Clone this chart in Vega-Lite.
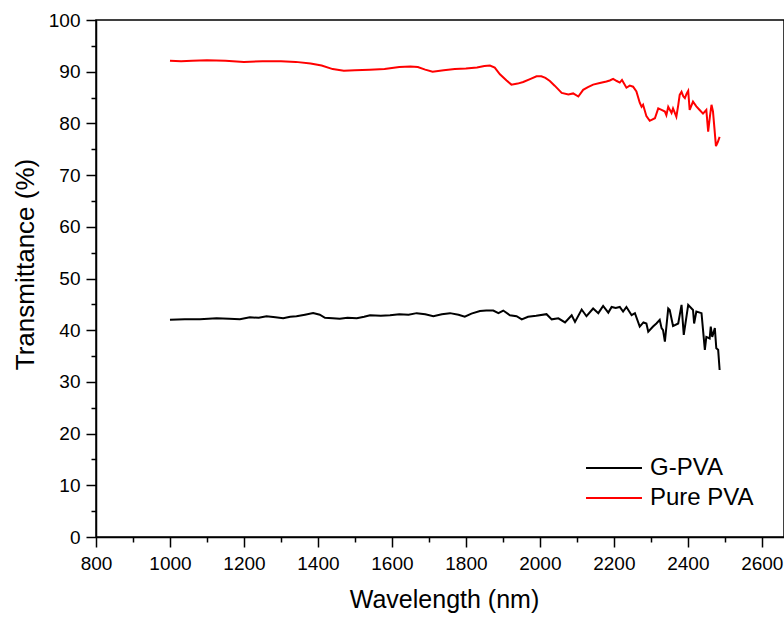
{
  "$schema": "https://vega.github.io/schema/vega-lite/v6.json",
  "width": 688,
  "height": 517,
  "autosize": {"type": "none"},
  "padding": {"left": 96, "top": 20, "right": 0, "bottom": 81},
  "background": "white",
  "config": {
    "font": "Liberation Sans",
    "view": {"stroke": "black", "strokeWidth": 1.5},
    "axis": {"domainColor": "black", "domainWidth": 1.5, "tickColor": "black", "tickWidth": 1.5, "labelColor": "black", "titleColor": "black", "labelFontSize": 19, "titleFontWeight": "normal", "grid": false, "labelOverlap": false, "labelFlush": false, "labelBound": false}
  },
  "data": {"values": [
    {"s":"Pure PVA","x":1000,"y":92.1},{"s":"Pure PVA","x":1030,"y":92.0},{"s":"Pure PVA","x":1060,"y":92.1},{"s":"Pure PVA","x":1100,"y":92.2},{"s":"Pure PVA","x":1150,"y":92.1},{"s":"Pure PVA","x":1200,"y":91.9},{"s":"Pure PVA","x":1250,"y":92.0},{"s":"Pure PVA","x":1300,"y":92.0},{"s":"Pure PVA","x":1340,"y":91.9},{"s":"Pure PVA","x":1380,"y":91.6},{"s":"Pure PVA","x":1410,"y":91.2},{"s":"Pure PVA","x":1440,"y":90.5},{"s":"Pure PVA","x":1470,"y":90.2},{"s":"Pure PVA","x":1500,"y":90.3},{"s":"Pure PVA","x":1540,"y":90.4},{"s":"Pure PVA","x":1580,"y":90.5},{"s":"Pure PVA","x":1620,"y":90.9},{"s":"Pure PVA","x":1650,"y":91.0},{"s":"Pure PVA","x":1670,"y":90.9},{"s":"Pure PVA","x":1690,"y":90.4},{"s":"Pure PVA","x":1710,"y":90.0},{"s":"Pure PVA","x":1740,"y":90.3},{"s":"Pure PVA","x":1770,"y":90.5},{"s":"Pure PVA","x":1800,"y":90.6},{"s":"Pure PVA","x":1830,"y":90.8},{"s":"Pure PVA","x":1850,"y":91.1},{"s":"Pure PVA","x":1865,"y":91.2},{"s":"Pure PVA","x":1878,"y":90.8},{"s":"Pure PVA","x":1892,"y":89.5},{"s":"Pure PVA","x":1910,"y":88.3},{"s":"Pure PVA","x":1923,"y":87.5},{"s":"Pure PVA","x":1940,"y":87.7},{"s":"Pure PVA","x":1955,"y":88.0},{"s":"Pure PVA","x":1975,"y":88.6},{"s":"Pure PVA","x":1991,"y":89.1},{"s":"Pure PVA","x":2004,"y":89.1},{"s":"Pure PVA","x":2015,"y":88.8},{"s":"Pure PVA","x":2027,"y":88.2},{"s":"Pure PVA","x":2040,"y":87.3},{"s":"Pure PVA","x":2059,"y":85.9},{"s":"Pure PVA","x":2077,"y":85.6},{"s":"Pure PVA","x":2090,"y":85.8},{"s":"Pure PVA","x":2104,"y":85.2},{"s":"Pure PVA","x":2117,"y":86.5},{"s":"Pure PVA","x":2130,"y":87.0},{"s":"Pure PVA","x":2144,"y":87.5},{"s":"Pure PVA","x":2162,"y":87.8},{"s":"Pure PVA","x":2180,"y":88.1},{"s":"Pure PVA","x":2189,"y":88.3},{"s":"Pure PVA","x":2198,"y":88.6},{"s":"Pure PVA","x":2208,"y":88.2},{"s":"Pure PVA","x":2216,"y":87.9},{"s":"Pure PVA","x":2222,"y":88.4},{"s":"Pure PVA","x":2234,"y":86.9},{"s":"Pure PVA","x":2243,"y":87.3},{"s":"Pure PVA","x":2252,"y":87.1},{"s":"Pure PVA","x":2261,"y":86.2},{"s":"Pure PVA","x":2270,"y":84.0},{"s":"Pure PVA","x":2275,"y":83.2},{"s":"Pure PVA","x":2279,"y":83.6},{"s":"Pure PVA","x":2288,"y":81.4},{"s":"Pure PVA","x":2297,"y":80.5},{"s":"Pure PVA","x":2311,"y":81.0},{"s":"Pure PVA","x":2320,"y":82.9},{"s":"Pure PVA","x":2329,"y":82.6},{"s":"Pure PVA","x":2338,"y":82.3},{"s":"Pure PVA","x":2342,"y":81.6},{"s":"Pure PVA","x":2347,"y":83.2},{"s":"Pure PVA","x":2356,"y":82.0},{"s":"Pure PVA","x":2360,"y":82.9},{"s":"Pure PVA","x":2369,"y":81.3},{"s":"Pure PVA","x":2374,"y":83.5},{"s":"Pure PVA","x":2378,"y":85.5},{"s":"Pure PVA","x":2383,"y":86.1},{"s":"Pure PVA","x":2388,"y":85.2},{"s":"Pure PVA","x":2392,"y":84.9},{"s":"Pure PVA","x":2397,"y":85.8},{"s":"Pure PVA","x":2401,"y":86.3},{"s":"Pure PVA","x":2405,"y":82.6},{"s":"Pure PVA","x":2414,"y":84.2},{"s":"Pure PVA","x":2423,"y":83.3},{"s":"Pure PVA","x":2432,"y":82.6},{"s":"Pure PVA","x":2441,"y":81.9},{"s":"Pure PVA","x":2450,"y":82.6},{"s":"Pure PVA","x":2455,"y":78.4},{"s":"Pure PVA","x":2460,"y":81.5},{"s":"Pure PVA","x":2464,"y":83.6},{"s":"Pure PVA","x":2468,"y":82.3},{"s":"Pure PVA","x":2472,"y":79.0},{"s":"Pure PVA","x":2476,"y":75.6},{"s":"Pure PVA","x":2481,"y":76.4},{"s":"Pure PVA","x":2486,"y":77.4},
    {"s":"G-PVA","x":1000,"y":42.0},{"s":"G-PVA","x":1040,"y":42.1},{"s":"G-PVA","x":1081,"y":42.1},{"s":"G-PVA","x":1126,"y":42.3},{"s":"G-PVA","x":1160,"y":42.2},{"s":"G-PVA","x":1189,"y":42.1},{"s":"G-PVA","x":1216,"y":42.5},{"s":"G-PVA","x":1240,"y":42.4},{"s":"G-PVA","x":1261,"y":42.7},{"s":"G-PVA","x":1285,"y":42.5},{"s":"G-PVA","x":1306,"y":42.3},{"s":"G-PVA","x":1325,"y":42.6},{"s":"G-PVA","x":1342,"y":42.7},{"s":"G-PVA","x":1365,"y":43.0},{"s":"G-PVA","x":1387,"y":43.3},{"s":"G-PVA","x":1405,"y":43.0},{"s":"G-PVA","x":1419,"y":42.4},{"s":"G-PVA","x":1440,"y":42.3},{"s":"G-PVA","x":1459,"y":42.2},{"s":"G-PVA","x":1480,"y":42.4},{"s":"G-PVA","x":1505,"y":42.3},{"s":"G-PVA","x":1525,"y":42.6},{"s":"G-PVA","x":1541,"y":42.9},{"s":"G-PVA","x":1570,"y":42.8},{"s":"G-PVA","x":1595,"y":42.9},{"s":"G-PVA","x":1620,"y":43.1},{"s":"G-PVA","x":1645,"y":43.0},{"s":"G-PVA","x":1667,"y":43.3},{"s":"G-PVA","x":1690,"y":43.1},{"s":"G-PVA","x":1712,"y":42.7},{"s":"G-PVA","x":1735,"y":43.1},{"s":"G-PVA","x":1757,"y":43.3},{"s":"G-PVA","x":1780,"y":43.0},{"s":"G-PVA","x":1797,"y":42.6},{"s":"G-PVA","x":1815,"y":43.2},{"s":"G-PVA","x":1838,"y":43.7},{"s":"G-PVA","x":1855,"y":43.8},{"s":"G-PVA","x":1874,"y":43.8},{"s":"G-PVA","x":1888,"y":43.3},{"s":"G-PVA","x":1901,"y":43.8},{"s":"G-PVA","x":1919,"y":42.9},{"s":"G-PVA","x":1937,"y":42.7},{"s":"G-PVA","x":1951,"y":42.1},{"s":"G-PVA","x":1968,"y":42.6},{"s":"G-PVA","x":1990,"y":42.8},{"s":"G-PVA","x":2018,"y":43.1},{"s":"G-PVA","x":2032,"y":42.1},{"s":"G-PVA","x":2050,"y":42.3},{"s":"G-PVA","x":2068,"y":41.5},{"s":"G-PVA","x":2086,"y":42.9},{"s":"G-PVA","x":2095,"y":41.6},{"s":"G-PVA","x":2113,"y":44.0},{"s":"G-PVA","x":2126,"y":42.7},{"s":"G-PVA","x":2144,"y":44.2},{"s":"G-PVA","x":2158,"y":43.3},{"s":"G-PVA","x":2171,"y":44.7},{"s":"G-PVA","x":2185,"y":43.4},{"s":"G-PVA","x":2194,"y":44.5},{"s":"G-PVA","x":2205,"y":44.3},{"s":"G-PVA","x":2216,"y":44.5},{"s":"G-PVA","x":2225,"y":43.6},{"s":"G-PVA","x":2234,"y":44.5},{"s":"G-PVA","x":2248,"y":42.9},{"s":"G-PVA","x":2257,"y":43.3},{"s":"G-PVA","x":2270,"y":40.7},{"s":"G-PVA","x":2280,"y":41.5},{"s":"G-PVA","x":2288,"y":41.3},{"s":"G-PVA","x":2293,"y":39.7},{"s":"G-PVA","x":2306,"y":40.7},{"s":"G-PVA","x":2315,"y":41.3},{"s":"G-PVA","x":2324,"y":42.0},{"s":"G-PVA","x":2329,"y":40.4},{"s":"G-PVA","x":2333,"y":40.0},{"s":"G-PVA","x":2338,"y":37.8},{"s":"G-PVA","x":2347,"y":44.2},{"s":"G-PVA","x":2351,"y":43.9},{"s":"G-PVA","x":2360,"y":40.8},{"s":"G-PVA","x":2374,"y":41.3},{"s":"G-PVA","x":2383,"y":44.9},{"s":"G-PVA","x":2389,"y":39.1},{"s":"G-PVA","x":2401,"y":44.9},{"s":"G-PVA","x":2414,"y":43.9},{"s":"G-PVA","x":2417,"y":41.3},{"s":"G-PVA","x":2423,"y":43.6},{"s":"G-PVA","x":2437,"y":43.3},{"s":"G-PVA","x":2446,"y":36.2},{"s":"G-PVA","x":2450,"y":38.7},{"s":"G-PVA","x":2459,"y":38.4},{"s":"G-PVA","x":2462,"y":40.7},{"s":"G-PVA","x":2466,"y":38.7},{"s":"G-PVA","x":2473,"y":40.4},{"s":"G-PVA","x":2477,"y":36.5},{"s":"G-PVA","x":2482,"y":36.2},{"s":"G-PVA","x":2486,"y":32.3}
  ]},
  "mark": {"type": "line", "strokeWidth": 2, "clip": true},
  "encoding": {
    "x": {"field": "x", "type": "quantitative", "title": "Wavelength (nm)",
      "scale": {"domain": [800, 2660], "nice": false, "zero": false},
      "axis": {"values": [800,900,1000,1100,1200,1300,1400,1500,1600,1700,1800,1900,2000,2100,2200,2300,2400,2500,2600],
        "labelExpr": "datum.value % 200 === 0 ? datum.label : ''", "format": "d",
        "tickSize": {"condition": {"test": "datum.value % 200 === 0", "value": 10}, "value": 5},
        "labelPadding": 7, "titlePadding": 14, "titleFontSize": 25, "titleX": 348}},
    "y": {"field": "y", "type": "quantitative", "title": "Transmittance (%)",
      "scale": {"domain": [0, 100], "nice": false},
      "axis": {"values": [0,5,10,15,20,25,30,35,40,45,50,55,60,65,70,75,80,85,90,95,100],
        "labelExpr": "datum.value % 10 === 0 ? datum.label : ''",
        "tickSize": {"condition": {"test": "datum.value % 10 === 0", "value": 10}, "value": 5},
        "labelPadding": 6, "titlePadding": 10, "titleFontSize": 26, "titleY": 244}},
    "color": {"field": "s", "type": "nominal",
      "scale": {"domain": ["G-PVA", "Pure PVA"], "range": ["#000000", "#ff0000"]},
      "legend": {"title": null, "orient": "none", "legendX": 506, "legendY": 436,
        "symbolType": "M-3,0H3", "symbolSize": 348, "symbolStrokeWidth": 2,
        "labelFontSize": 24, "labelColor": "black", "labelOffset": 24, "rowPadding": 6}}
  }
}
